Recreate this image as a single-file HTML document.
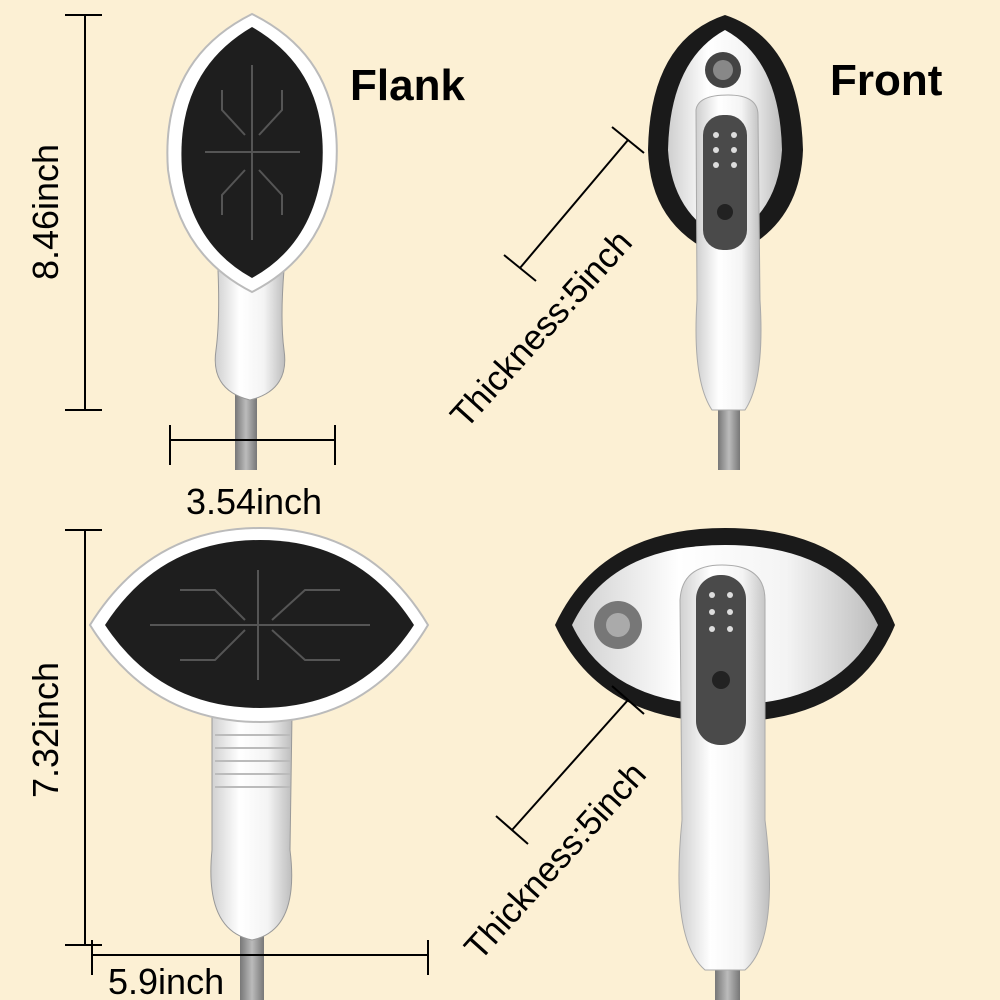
<!DOCTYPE html>
<html><head><meta charset="utf-8"><style>
html,body{margin:0;padding:0;background:#fcf0d4;}
svg{display:block}
text{font-family:"Liberation Sans",sans-serif;fill:#000}
</style></head><body>
<svg width="1000" height="1000" viewBox="0 0 1000 1000" xmlns="http://www.w3.org/2000/svg">
<defs>
<linearGradient id="hose" x1="0" x2="1"><stop offset="0" stop-color="#777"/><stop offset=".5" stop-color="#bbb"/><stop offset="1" stop-color="#777"/></linearGradient>
<linearGradient id="wh" x1="0" x2="1"><stop offset="0" stop-color="#cfcfcf"/><stop offset=".35" stop-color="#fff"/><stop offset=".7" stop-color="#f4f4f4"/><stop offset="1" stop-color="#bdbdbd"/></linearGradient>
</defs>
<rect width="1000" height="1000" fill="#fcf0d4"/>

<!-- TOP LEFT: flank -->
<rect x="235" y="380" width="22" height="90" fill="url(#hose)"/>
<path d="M218 270 L284 270 Q280 320 284 350 Q290 390 250 400 Q210 390 216 350 Q220 320 218 270Z" fill="url(#wh)" stroke="#999"/>
<path d="M252 14 Q345 60 336 170 Q325 255 252 292 Q179 255 168 170 Q160 60 252 14Z" fill="#fff" stroke="#bbb" stroke-width="2"/>
<path d="M252 27 Q330 72 322 170 Q312 245 252 278 Q192 245 182 170 Q175 72 252 27Z" fill="#1e1e1e"/>
<g stroke="#555" stroke-width="2" fill="none">
<line x1="205" y1="152" x2="300" y2="152"/>
<line x1="252" y1="65" x2="252" y2="240"/>
<path d="M222 90 L222 110 L245 135 M282 90 L282 110 L259 135 M222 215 L222 195 L245 170 M282 215 L282 195 L259 170"/>
</g>
<g stroke="#000" stroke-width="2">
<line x1="85" y1="15" x2="85" y2="410"/><line x1="65" y1="15" x2="102" y2="15"/><line x1="65" y1="410" x2="102" y2="410"/>
<line x1="170" y1="440" x2="335" y2="440"/><line x1="170" y1="425" x2="170" y2="465"/><line x1="335" y1="425" x2="335" y2="465"/>
</g>
<text font-size="36" transform="translate(58,212) rotate(-90)" text-anchor="middle">8.46inch</text>
<text x="254" y="514" font-size="36" text-anchor="middle">3.54inch</text>
<text x="350" y="100" font-size="44" font-weight="bold">Flank</text>
<text x="830" y="95" font-size="44" font-weight="bold">Front</text>

<!-- TOP RIGHT: front -->
<rect x="718" y="400" width="22" height="70" fill="url(#hose)"/>
<path d="M725 15 Q800 40 803 150 Q800 230 725 258 Q650 230 648 150 Q650 40 725 15Z" fill="#1a1a1a"/>
<path d="M725 30 Q780 60 782 150 Q778 215 725 240 Q672 215 668 150 Q670 60 725 30Z" fill="url(#wh)"/>
<circle cx="723" cy="70" r="18" fill="#444"/><circle cx="723" cy="70" r="10" fill="#888"/>
<path d="M696 110 Q698 95 728 95 Q758 95 758 115 L760 300 Q765 380 745 410 L712 410 Q692 380 697 300Z" fill="url(#wh)" stroke="#aaa"/>
<rect x="703" y="115" width="44" height="135" rx="20" fill="#4a4a4a"/>
<g fill="#ddd"><circle cx="716" cy="135" r="3"/><circle cx="734" cy="135" r="3"/><circle cx="716" cy="150" r="3"/><circle cx="734" cy="150" r="3"/><circle cx="716" cy="165" r="3"/><circle cx="734" cy="165" r="3"/></g>
<circle cx="725" cy="212" r="8" fill="#222"/>
<g stroke="#000" stroke-width="2">
<line x1="628" y1="140" x2="520" y2="268"/><line x1="612" y1="127" x2="644" y2="153"/><line x1="504" y1="255" x2="536" y2="281"/>
</g>
<text font-size="35" transform="translate(466,430) rotate(-48)">Thickness:5inch</text>

<!-- BOTTOM LEFT -->
<rect x="240" y="920" width="24" height="80" fill="url(#hose)"/>
<path d="M212 715 L292 715 L290 850 Q300 930 252 940 Q204 930 212 850Z" fill="url(#wh)" stroke="#999"/>
<g stroke="#bbb" stroke-width="2"><line x1="215" y1="735" x2="290" y2="735"/><line x1="215" y1="748" x2="290" y2="748"/><line x1="215" y1="761" x2="290" y2="761"/><line x1="215" y1="774" x2="290" y2="774"/><line x1="215" y1="787" x2="290" y2="787"/></g>
<path d="M90 625 Q150 528 260 528 Q370 528 428 625 Q370 722 260 722 Q150 722 90 625Z" fill="#fff" stroke="#bbb" stroke-width="2"/>
<path d="M105 625 Q160 540 260 540 Q360 540 414 625 Q360 708 260 708 Q160 708 105 625Z" fill="#1e1e1e"/>
<g stroke="#555" stroke-width="2" fill="none">
<line x1="258" y1="570" x2="258" y2="680"/><line x1="150" y1="625" x2="370" y2="625"/>
<path d="M180 590 L215 590 L245 620 M180 660 L215 660 L245 630 M340 590 L305 590 L272 620 M340 660 L305 660 L272 630"/>
</g>
<g stroke="#000" stroke-width="2">
<line x1="85" y1="530" x2="85" y2="945"/><line x1="65" y1="530" x2="102" y2="530"/><line x1="65" y1="945" x2="102" y2="945"/>
<line x1="92" y1="955" x2="428" y2="955"/><line x1="92" y1="940" x2="92" y2="975"/><line x1="428" y1="940" x2="428" y2="975"/>
</g>
<text font-size="36" transform="translate(58,730) rotate(-90)" text-anchor="middle">7.32inch</text>
<text x="108" y="994" font-size="36">5.9inch</text>

<!-- BOTTOM RIGHT -->
<rect x="715" y="960" width="25" height="40" fill="url(#hose)"/>
<path d="M555 625 Q600 528 725 528 Q855 528 895 625 Q855 722 725 722 Q600 722 555 625Z" fill="#1a1a1a"/>
<path d="M572 625 Q610 545 725 545 Q840 545 878 625 Q840 705 725 705 Q610 705 572 625Z" fill="url(#wh)"/>
<circle cx="618" cy="625" r="24" fill="#777"/><circle cx="618" cy="625" r="12" fill="#aaa"/>
<path d="M680 600 Q682 565 722 565 Q765 565 765 600 L765 820 Q780 940 745 970 L705 970 Q670 940 682 820Z" fill="url(#wh)" stroke="#aaa"/>
<rect x="696" y="575" width="50" height="170" rx="24" fill="#4a4a4a"/>
<g fill="#ddd"><circle cx="712" cy="595" r="3"/><circle cx="730" cy="595" r="3"/><circle cx="712" cy="612" r="3"/><circle cx="730" cy="612" r="3"/><circle cx="712" cy="629" r="3"/><circle cx="730" cy="629" r="3"/></g>
<circle cx="721" cy="680" r="9" fill="#222"/>
<g stroke="#000" stroke-width="2">
<line x1="628" y1="700" x2="512" y2="830"/><line x1="612" y1="686" x2="644" y2="714"/><line x1="496" y1="816" x2="528" y2="844"/>
</g>
<text font-size="35" transform="translate(480,962) rotate(-48)">Thickness:5inch</text>
</svg>
</body></html>
